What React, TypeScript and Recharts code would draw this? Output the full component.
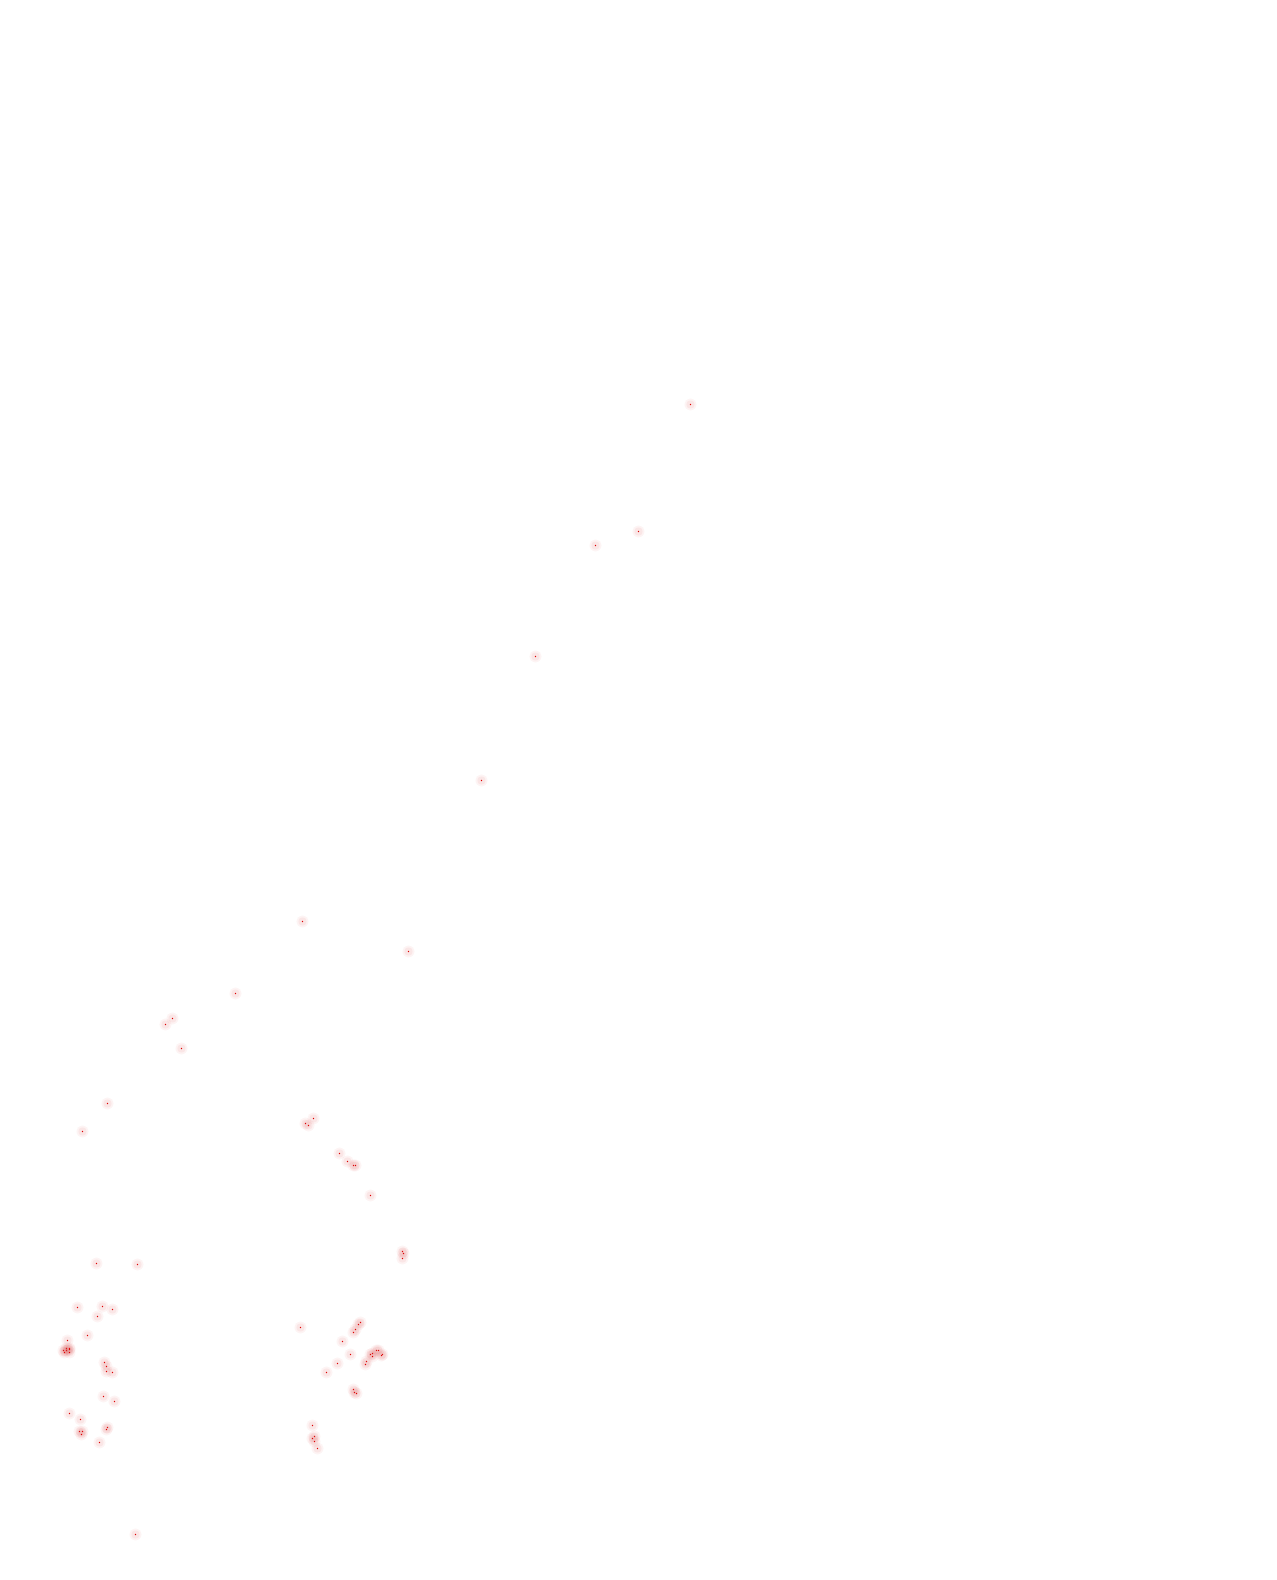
import React from "react";
import { ScatterChart, Scatter, XAxis, YAxis } from "recharts";

// no visible axes in the source, so values are kept in plot units (0..1277, 0..1580)
const xValues = [
  690.5, 638.5, 595.5, 535.5, 481.5, 302.5, 408.5, 235.5, 172.5, 165.5, 181.5,
  107.5, 82.5, 96.5, 137.5, 77.5, 102.5, 112.5, 97.5, 87.5, 67.5, 63.5, 66.5,
  66.5, 69.5, 69.5, 64.5, 69.5, 104.5, 106.5, 106.5, 112.5, 103.5, 114.5, 69.5,
  80.5, 79.5, 82.5, 81.5, 107.5, 106.5, 99.5, 135.5, 313.5, 305.5, 308.5, 339.5,
  347.5, 353.5, 355.5, 370.5, 402.5, 403.5, 402.5, 300.5, 360.5, 358.5, 355.5,
  353.5, 342.5, 350.5, 337.5, 326.5, 376.5, 378.5, 372.5, 370.5, 372.5, 382.5,
  381.5, 366.5, 365.5, 353.5, 354.5, 356.5, 312.5, 314.5, 312.5, 314.5, 317.5,
];

const yValues = [
  404.5, 531.5, 545.5, 656.5, 780.5, 921.5, 951.5, 993.5, 1018.5, 1024.5,
  1048.5, 1103.5, 1131.5, 1263.5, 1264.5, 1307.5, 1306.5, 1309.5, 1316.5,
  1335.5, 1340.5, 1350.5, 1348.5, 1350.5, 1348.5, 1349.5, 1352.5, 1352.5,
  1362.5, 1366.5, 1371.5, 1372.5, 1396.5, 1401.5, 1413.5, 1419.5, 1431.5,
  1431.5, 1434.5, 1427.5, 1429.5, 1442.5, 1534.5, 1118.5, 1123.5, 1125.5,
  1153.5, 1161.5, 1165.5, 1165.5, 1195.5, 1251.5, 1253.5, 1258.5, 1327.5,
  1322.5, 1324.5, 1329.5, 1332.5, 1341.5, 1354.5, 1363.5, 1372.5, 1350.5,
  1350.5, 1353.5, 1354.5, 1356.5, 1354.5, 1355.5, 1361.5, 1364.5, 1389.5,
  1392.5, 1393.5, 1425.5, 1436.5, 1438.5, 1441.5, 1448.5,
];

const points = xValues.map((x, i) => ({ x, y: yValues[i] }));

// tiny red core with a soft pink halo
const GlowDot = (props: any) => {
  const { cx, cy } = props;
  if (cx == null || cy == null) return null;
  return (
    <g>
      <circle cx={cx} cy={cy} r={6} fill="#d84848" fillOpacity={0.06} />
      <circle cx={cx} cy={cy} r={4} fill="#d84848" fillOpacity={0.08} />
      <circle cx={cx} cy={cy} r={0.7} fill="#dd0000" />
    </g>
  );
};

export default function App() {
  return (
    <div
      style={{
        position: "absolute",
        left: 0,
        top: 0,
        width: 1277,
        height: 1580,
        background: "#ffffff",
      }}
    >
      <ScatterChart
        width={1277}
        height={1580}
        margin={{ top: 0, right: 0, bottom: 0, left: 0 }}
      >
        <XAxis type="number" dataKey="x" domain={[0, 1277]} hide />
        <YAxis type="number" dataKey="y" domain={[0, 1580]} reversed hide />
        <Scatter data={points} shape={GlowDot} isAnimationActive={false} />
      </ScatterChart>
    </div>
  );
}
